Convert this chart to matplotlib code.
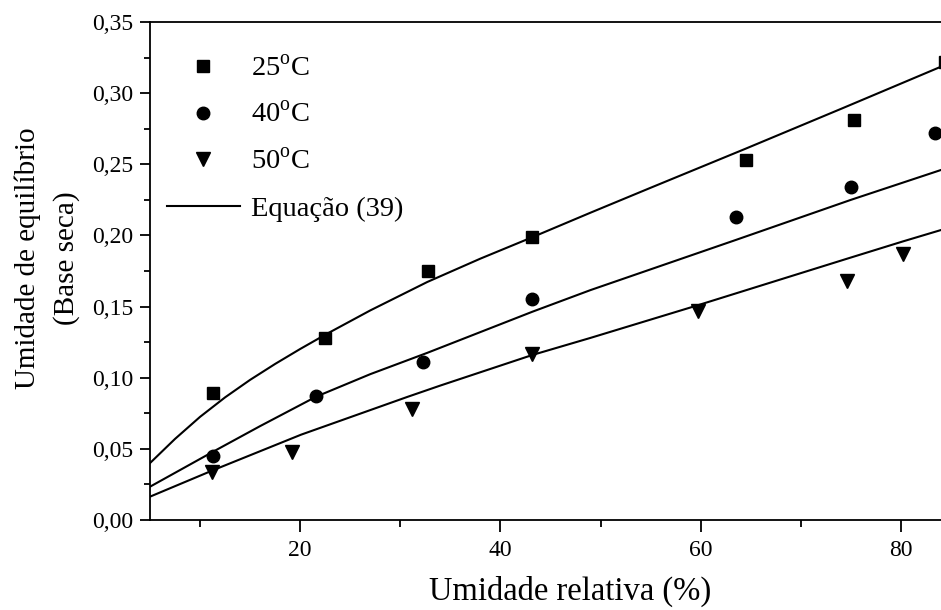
import matplotlib
matplotlib.use("Agg")
import matplotlib.pyplot as plt
from matplotlib.ticker import MultipleLocator, FuncFormatter

plt.rcParams['font.family'] = ['Liberation Serif', 'DejaVu Serif']
plt.rcParams['mathtext.fontset'] = 'custom'
plt.rcParams['mathtext.rm'] = 'Liberation Serif'

# experimental points (relative humidity %, equilibrium moisture dry basis)
ur_25 = [11.3, 22.5, 32.8, 43.2, 64.5, 75.3, 84.4]
ue_25 = [0.089, 0.128, 0.175, 0.199, 0.253, 0.281, 0.322]
ur_40 = [11.3, 21.6, 32.3, 43.2, 63.5, 75.0, 83.4]
ue_40 = [0.045, 0.087, 0.111, 0.155, 0.213, 0.234, 0.272]
ur_50 = [11.2, 19.2, 31.2, 43.2, 59.7, 74.6, 80.2]
ue_50 = [0.034, 0.048, 0.078, 0.117, 0.147, 0.168, 0.187]

# model curves, Equação (39)
fit_x_25 = [5.0, 7.5, 10.0, 12.5, 15.0, 17.5, 20.0, 22.6, 27.0, 32.7, 38.0, 43.2,
            49.0, 55.0, 64.5, 74.2, 84.0]
fit_y_25 = [0.040, 0.0570, 0.0725, 0.0862, 0.0985, 0.1097, 0.1202, 0.1306, 0.1473,
            0.1673, 0.1837, 0.1988, 0.2160, 0.2335, 0.2610, 0.2895, 0.3186]
fit_x_40 = [5.0, 11.3, 16.0, 21.6, 27.0, 32.7, 43.2, 49.0, 63.5, 75.0, 84.0]
fit_y_40 = [0.0234, 0.048, 0.066, 0.0867, 0.1025, 0.1175, 0.1464, 0.1616, 0.1968,
            0.225, 0.246]
fit_x_50 = [5.0, 11.3, 20.1, 30.7, 34.0, 43.2, 49.0, 59.7, 74.6, 80.2, 84.0]
fit_y_50 = [0.0164, 0.035, 0.060, 0.0865, 0.0945, 0.116, 0.128, 0.1509, 0.1836,
            0.1958, 0.2038]

fig = plt.figure(figsize=(9.41, 6.10), dpi=100)
ax = fig.add_axes([150 / 941, 90 / 610, 791 / 941, 498 / 610])

ax.plot(ur_25, ue_25, 's', color='black', ms=9, label='25$^{\\rm o}$C', clip_on=False)
ax.plot(ur_40, ue_40, 'o', color='black', ms=9, label='40$^{\\rm o}$C', clip_on=False)
ax.plot(ur_50, ue_50, 'v', color='black', ms=10, label='50$^{\\rm o}$C', clip_on=False)
ax.plot(fit_x_25, fit_y_25, '-', color='black', lw=1.5, label='Equação (39)')
ax.plot(fit_x_40, fit_y_40, '-', color='black', lw=1.5)
ax.plot(fit_x_50, fit_y_50, '-', color='black', lw=1.5)

ax.set_xlim(5, 84)
ax.set_ylim(0, 0.35)

ax.xaxis.set_major_locator(MultipleLocator(20))
ax.xaxis.set_minor_locator(MultipleLocator(10))
ax.yaxis.set_major_locator(MultipleLocator(0.05))
ax.yaxis.set_minor_locator(MultipleLocator(0.025))
ax.yaxis.set_major_formatter(FuncFormatter(lambda v, p: f"{v:.2f}".replace('.', ',')))

ax.spines['right'].set_visible(False)
for s in ['left', 'bottom', 'top']:
    ax.spines[s].set_linewidth(1.3)
ax.tick_params(axis='both', which='major', direction='out', width=1.3, labelsize=17)
ax.tick_params(axis='x', which='major', length=8.5, pad=6)
ax.tick_params(axis='x', which='minor', direction='out', length=5, width=1.3)
ax.tick_params(axis='y', which='major', length=7, pad=5)
ax.tick_params(axis='y', which='minor', direction='out', length=4, width=1.3)

ax.set_xlabel('Umidade relativa (%)', fontsize=23.5)
ax.xaxis.set_label_coords(0.531, -0.111)
ax.set_ylabel('Umidade de equilíbrio\n(Base seca)', fontsize=21, linespacing=1.6)
ax.yaxis.set_label_coords(-0.0885, 0.526)

ax.legend(loc='upper left', bbox_to_anchor=(0.007, 0.955), frameon=False,
          fontsize=20.5, handlelength=2.56, handletextpad=0.39, labelspacing=0.72,
          borderaxespad=0)

fig.savefig('out.png', dpi=100)
